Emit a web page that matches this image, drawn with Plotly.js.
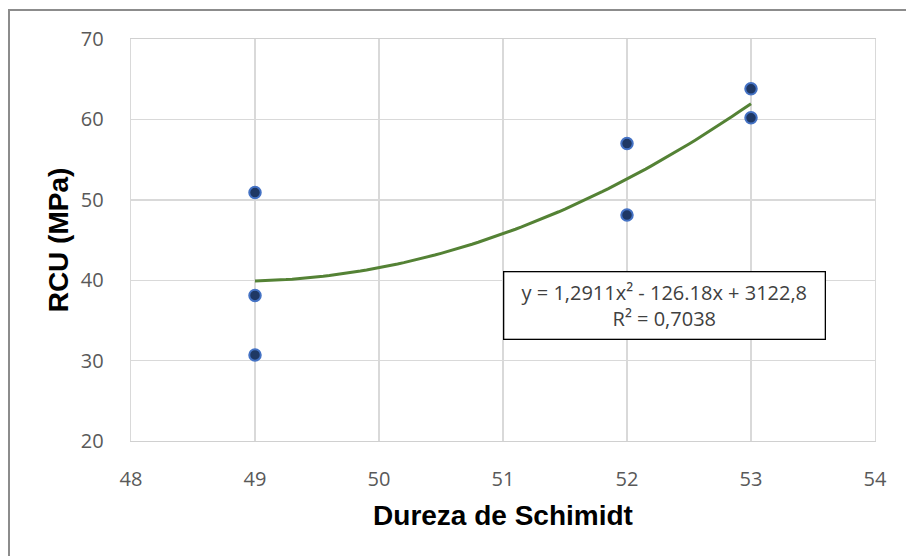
<!DOCTYPE html>
<html>
<head>
<meta charset="utf-8">
<script src="https://cdn.plot.ly/plotly-3.0.1.min.js"></script>
<style>
  html, body { margin: 0; padding: 0; background: #ffffff; }
  #wrap { position: relative; width: 906px; height: 556px; overflow: hidden; }
  #frame { position: absolute; left: 8px; top: 9px; right: -4px; bottom: -4px;
           border-left: 2px solid #8c8c8c; border-top: 2px solid #8c8c8c; }
  #chart { position: absolute; left: 0; top: 0; width: 906px; height: 556px; }
</style>
</head>
<body>
<div id="wrap">
  <div id="chart"></div>
  <div id="frame"></div>
</div>
<script>
// Schmidt hammer rebound vs. uniaxial compressive strength
const durezaSchmidt = [49, 49, 49, 52, 52, 53, 53];
const rcuMPa        = [50.9, 38.1, 30.7, 57.0, 48.1, 63.8, 60.2];

// Polynomial trend line (order 2) as reported in the equation label
const trendCoef = [1.2911, -126.18, 3122.8];   // a, b, c
const trendR2 = 0.7038;
const trendFrom = 49, trendTo = 53;

const xTicks = [48, 49, 50, 51, 52, 53, 54];
const yTicks = [20, 30, 40, 50, 60, 70];

// Evaluate the trend polynomial along the data span
const trendX = [], trendY = [];
const steps = 80;
for (let i = 0; i <= steps; i++) {
  const x = trendFrom + (trendTo - trendFrom) * i / steps;
  trendX.push(x);
  trendY.push(trendCoef[0] * x * x + trendCoef[1] * x + trendCoef[2]);
}

const fmtComma = (v, d) => v.toFixed(d).replace('.', ',');
const eqText = 'y = ' + fmtComma(trendCoef[0], 4) + 'x² - ' +
               Math.abs(trendCoef[1]).toFixed(2) + 'x + ' + fmtComma(trendCoef[2], 1) +
               '<br>R² = ' + fmtComma(trendR2, 4);

const traces = [
  {
    x: trendX, y: trendY, type: 'scatter', mode: 'lines',
    line: { color: '#548235', width: 3 },
    hoverinfo: 'skip', showlegend: false
  },
  {
    x: durezaSchmidt, y: rcuMPa, type: 'scatter', mode: 'markers',
    marker: { size: 11.5, color: '#1f3864', line: { color: '#4472c4', width: 2 } },
    showlegend: false
  }
];

const tickFont = { family: 'Open Sans, sans-serif', size: 20, color: '#595959' };
const titleFont = { family: 'Liberation Sans, Arial, sans-serif', size: 28, color: '#000000', weight: 'bold' };

const layout = {
  width: 906, height: 556,
  margin: { l: 131, r: 31, t: 39, b: 115 },
  paper_bgcolor: '#ffffff', plot_bgcolor: '#ffffff',
  showlegend: false,
  xaxis: {
    range: [48, 54], tickvals: xTicks, ticktext: xTicks.map(String),
    tickfont: tickFont, ticks: '', ticklabelstandoff: 20,
    showgrid: true, gridcolor: '#d9d9d9', gridwidth: 1.4,
    zeroline: false, showline: true, linecolor: '#d0d0d0', linewidth: 1.4, mirror: true,
    title: { text: '<b>Dureza de Schimidt</b>', font: titleFont, standoff: 14 }
  },
  yaxis: {
    range: [20, 70], tickvals: yTicks, ticktext: yTicks.map(String),
    tickfont: tickFont, ticks: '', ticklabelstandoff: 22,
    showgrid: true, gridcolor: '#d9d9d9', gridwidth: 1.4,
    zeroline: false, showline: true, linecolor: '#d9d9d9', linewidth: 1.4, mirror: true,
    title: { text: '<b>RCU (MPa)</b>', font: titleFont, standoff: 4 }
  },
  annotations: [{
    xref: 'paper', yref: 'paper',
    x: (664.5 - 131) / 744, y: (441 - 305.5) / 402,
    xanchor: 'center', yanchor: 'middle',
    text: eqText, showarrow: false, align: 'center',
    font: { family: 'Open Sans, sans-serif', size: 20, color: '#404040' },
    bgcolor: '#ffffff', bordercolor: '#000000', borderwidth: 1.3, borderpad: 2,
    width: 316, height: 62
  }]
};

Plotly.newPlot('chart', traces, layout, { displayModeBar: false, staticPlot: true });
</script>
</body>
</html>
